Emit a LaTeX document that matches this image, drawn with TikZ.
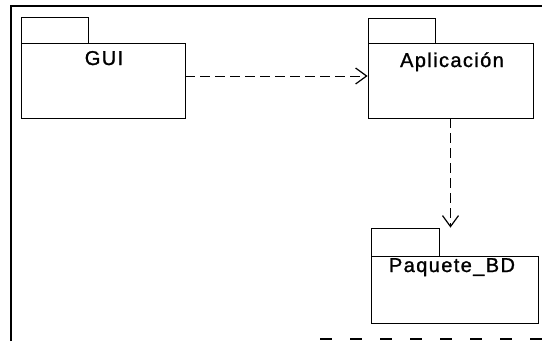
\documentclass[tikz,border=0pt]{standalone}
\usepackage{fontspec}
\setmainfont{Liberation Sans}
\newfontfamily\lblfont[LetterSpace=7,FakeBold=1.2]{Liberation Sans}
\usetikzlibrary{arrows.meta,positioning,calc}
\begin{document}
\begin{tikzpicture}[x=1pt,y=-1pt,
  frameline/.style={line width=2pt,black},
  pkgbody/.style={draw=black,line width=0.8pt,rectangle,inner sep=0pt},
  pkgtab/.style={draw=black,line width=0.8pt,rectangle,inner sep=0pt},
  pkglabel/.style={inner sep=0pt,anchor=base,font=\lblfont\fontsize{20}{24}\selectfont},
  dep/.style={line width=0.8pt,dash pattern=on 10pt off 5pt,
    -{Straight Barb[length=11pt,width=16pt,line width=1.2pt]}}
]
\useasboundingbox (0,0) rectangle (542,341);
\fill[white] (0,0) rectangle (542,341);
% frame
\draw[frameline] (11,341) -- (11,6) -- (542,6);
\draw[line width=1.2pt,dash pattern=on 12pt off 18pt] (320,339) -- (542,339);
% GUI
\node[pkgbody,minimum width=164pt,minimum height=75pt] (gui) at (103,80.5) {};
\node[pkgtab,minimum width=67pt,minimum height=26pt] (guitab) at (54.5,30) {};
\node[pkglabel] (guilbl) at (104,65) {GUI};
% Aplicacion
\node[pkgbody,minimum width=165pt,minimum height=75pt] (app) at (450.5,80.5) {};
\node[pkgtab,minimum width=67pt,minimum height=25pt] (apptab) at (401.5,30.5) {};
\node[pkglabel] (applbl) at (452,67) {Aplicación};
% Paquete_BD
\node[pkgbody,minimum width=167pt,minimum height=67pt] (bd) at (454.5,289.5) {};
\node[pkgtab,minimum width=68pt,minimum height=28pt] (bdtab) at (405,242) {};
\node[pkglabel] (bdlbl) at (452,272) {Paquete\_BD};
% dependencies
\draw[dep] ([yshift=4.5pt]gui.east) -- ([yshift=4.5pt]app.west);
\draw[dep] (app.south) -- (app.south |- bdtab.north);
\end{tikzpicture}
\end{document}
